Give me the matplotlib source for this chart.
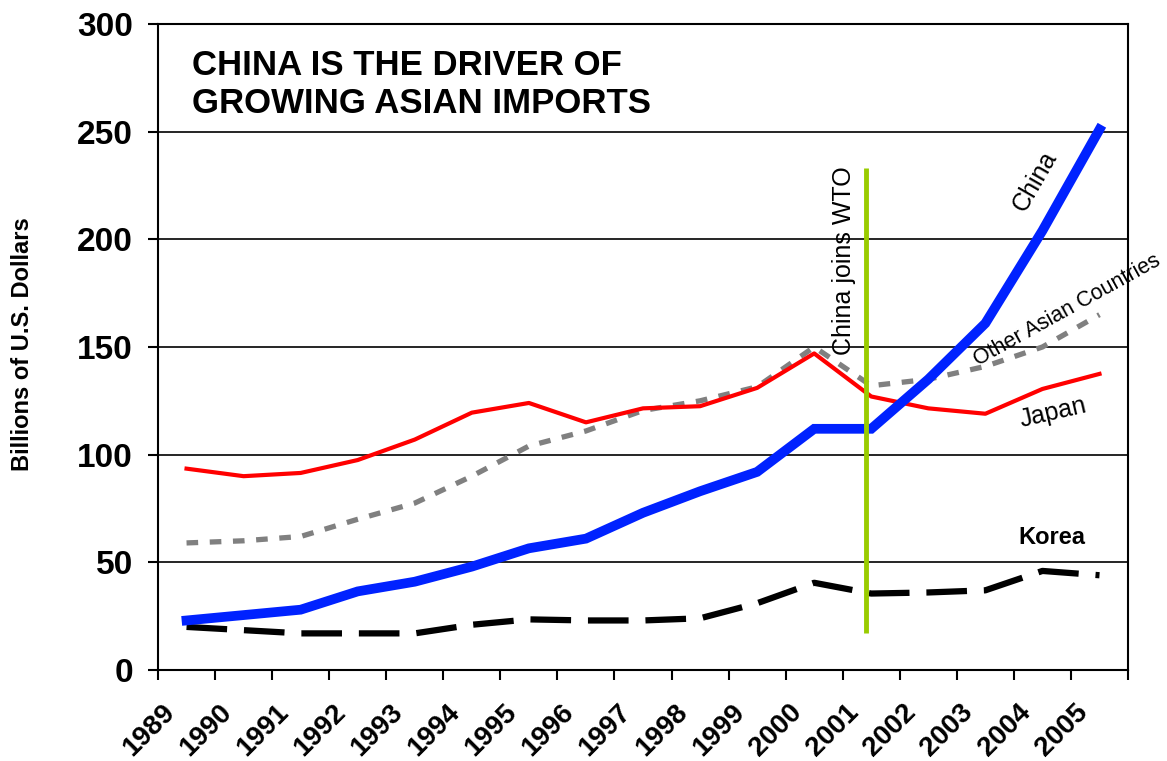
import matplotlib.pyplot as plt
import numpy as np

plt.rcParams['font.family'] = ['Liberation Sans', 'DejaVu Sans']

years = ['1989', '1990', '1991', '1992', '1993', '1994', '1995', '1996', '1997',
         '1998', '1999', '2000', '2001', '2002', '2003', '2004', '2005']

china = [23, 25.5, 28, 36.5, 41, 48, 56.5, 61, 73, 83, 92, 112, 112, 135, 161, 204, 251]
japan = [93.5, 90, 91.5, 97.5, 107, 119.5, 124, 115, 121.5, 122.5, 131, 147, 127, 121.5, 119, 130.5, 137.5]
other_asia = [59, 60, 62, 70, 77.5, 90, 104, 111, 120.5, 125, 131.5, 150, 132, 135, 141, 150, 165]
korea = [20, 18.5, 17, 17, 17, 21, 23.5, 23, 23, 24, 31, 40.5, 35.5, 36, 37, 46, 44]

wto_x = 11.9  # mid-december 2001

x = np.arange(len(years))

fig = plt.figure(figsize=(11.67, 7.61), dpi=100)
ax = fig.add_axes([0.1354, 0.1196, 0.8312, 0.8489])

ax.set_xlim(-0.5, len(years) - 0.5)
ax.set_ylim(0, 300)

# gridlines
for v in range(50, 301, 50):
    ax.axhline(v, color='black', lw=1.2, zorder=1)

ax.plot(x, korea, color='black', lw=4.5, dashes=(6.5, 2.7), zorder=3)
ax.plot(x, other_asia, color='#808080', lw=3.8, dashes=(2.2, 2.2), zorder=3)
ax.plot(x, japan, color='#ff0000', lw=3, zorder=4)
ax.plot(x, china, color='#0022ff', lw=7, zorder=5, solid_joinstyle='miter')
ax.vlines(wto_x, 17, 233, color='#99cc00', lw=3.5, zorder=6)

# ticks
ax.set_xticks(np.arange(-0.5, len(years)), [])
ax.set_xticks(x - 0.12, years, minor=True)
ax.tick_params(axis='x', which='major', length=7, width=1.5, direction='out')
ax.tick_params(axis='x', which='minor', length=0, pad=21)
for lab in ax.get_xticklabels(minor=True):
    lab.set_rotation(45)
    lab.set_ha('right')
    lab.set_va('top')
    lab.set_fontsize(20)
    lab.set_fontweight('bold')

ax.set_yticks(range(0, 301, 50))
ax.tick_params(axis='y', length=7, width=1.5, direction='out', labelsize=24, pad=11)
for lab in ax.get_yticklabels():
    lab.set_fontweight('bold')

for s in ax.spines.values():
    s.set_linewidth(1.5)
    s.set_color('black')

ax.set_ylabel('Billions of U.S. Dollars', fontsize=17, fontweight='bold')
ax.yaxis.set_label_coords(-0.128, 0.505)

ax.text(0.035, 0.962, 'CHINA IS THE DRIVER OF\nGROWING ASIAN IMPORTS', transform=ax.transAxes,
        fontsize=25, fontweight='bold', va='top', ha='left', linespacing=1.22)

# series labels
ax.text(14.87, 227, 'China', fontsize=18, rotation=60, ha='center', va='center')
ax.text(15.43, 167, 'Other Asian Countries', fontsize=15.5, rotation=29, ha='center', va='center')
ax.text(15.18, 119.5, 'Japan', fontsize=18, rotation=13, ha='center', va='center')
ax.text(15.17, 61.5, 'Korea', fontsize=17, fontweight='bold', ha='center', va='center')
ax.text(wto_x - 0.38, 190, 'China joins WTO', fontsize=18, rotation=90, ha='center', va='center')

fig.savefig('out.png', dpi=100)
